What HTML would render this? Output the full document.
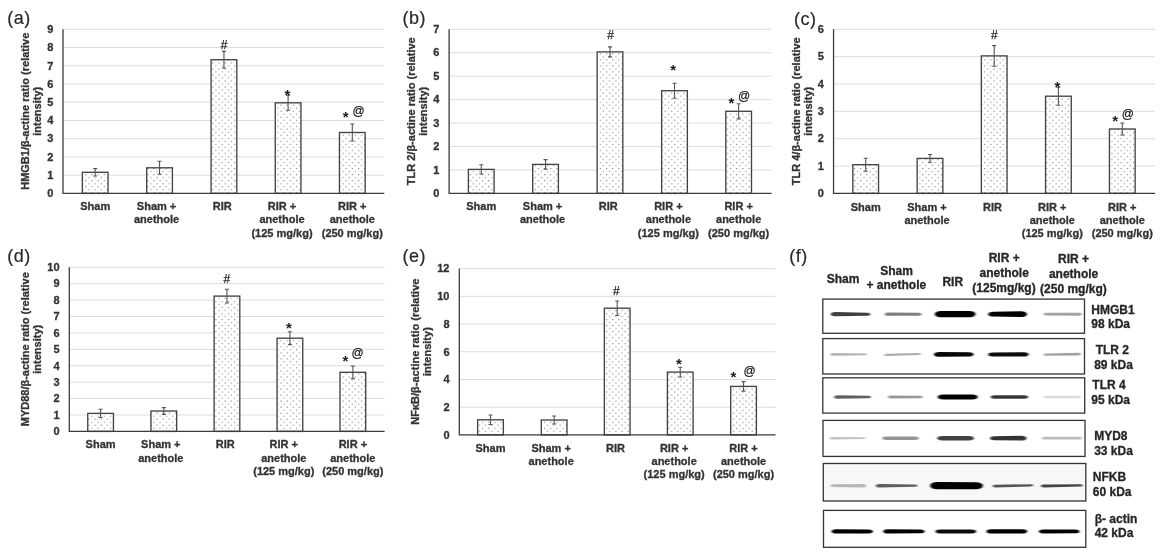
<!DOCTYPE html>
<html lang="en">
<head>
<meta charset="utf-8">
<title>Western blot figure</title>
<style>
html,body{margin:0;padding:0;background:#fff;}
body{width:1166px;height:559px;overflow:hidden;}
svg{display:block;opacity:0.999;font-family:'Liberation Sans', Arial, sans-serif;}
.b11{font-size:11px;font-weight:700;fill:#333;stroke:#333;stroke-width:.3px;}
.b12{font-size:12px;font-weight:700;fill:#262626;stroke:#262626;stroke-width:.3px;}
.r12{font-size:12px;fill:#222;stroke:#222;stroke-width:.25px;}
.star{font-size:15px;font-weight:700;fill:#1a1a1a;}
.pl{font-size:18px;letter-spacing:.5px;fill:#2a2a2a;stroke:#2a2a2a;stroke-width:.2px;}
</style>
</head>
<body>
<svg width="1166" height="559" viewBox="0 0 1166 559">
<defs>
<pattern id="dots" width="6.2" height="6.04" patternUnits="userSpaceOnUse" x="1" y="1.5">
<rect x="0.5" y="0.5" width="1.05" height="1.0" fill="#6e6e6e"/>
<rect x="3.6" y="3.52" width="1.05" height="1.0" fill="#6e6e6e"/>
</pattern>
<filter id="bl" x="-10%" y="-100%" width="120%" height="300%"><feGaussianBlur stdDeviation="1.0 0.75"/></filter>
</defs>
<rect width="1166" height="559" fill="#fff"/>
<g id="chart-a">
<line x1="63.0" y1="175.17" x2="384.3" y2="175.17" stroke="#dcdcdc" stroke-width="1"/>
<line x1="63.0" y1="156.93" x2="384.3" y2="156.93" stroke="#dcdcdc" stroke-width="1"/>
<line x1="63.0" y1="138.70" x2="384.3" y2="138.70" stroke="#dcdcdc" stroke-width="1"/>
<line x1="63.0" y1="120.47" x2="384.3" y2="120.47" stroke="#dcdcdc" stroke-width="1"/>
<line x1="63.0" y1="102.23" x2="384.3" y2="102.23" stroke="#dcdcdc" stroke-width="1"/>
<line x1="63.0" y1="84.00" x2="384.3" y2="84.00" stroke="#dcdcdc" stroke-width="1"/>
<line x1="63.0" y1="65.77" x2="384.3" y2="65.77" stroke="#dcdcdc" stroke-width="1"/>
<line x1="63.0" y1="47.53" x2="384.3" y2="47.53" stroke="#dcdcdc" stroke-width="1"/>
<line x1="63.0" y1="29.30" x2="384.3" y2="29.30" stroke="#dcdcdc" stroke-width="1"/>
<text x="53.3" y="197.15" text-anchor="end" class="b11">0</text>
<text x="53.3" y="178.92" text-anchor="end" class="b11">1</text>
<text x="53.3" y="160.68" text-anchor="end" class="b11">2</text>
<text x="53.3" y="142.45" text-anchor="end" class="b11">3</text>
<text x="53.3" y="124.22" text-anchor="end" class="b11">4</text>
<text x="53.3" y="105.98" text-anchor="end" class="b11">5</text>
<text x="53.3" y="87.75" text-anchor="end" class="b11">6</text>
<text x="53.3" y="69.52" text-anchor="end" class="b11">7</text>
<text x="53.3" y="51.28" text-anchor="end" class="b11">8</text>
<text x="53.3" y="33.05" text-anchor="end" class="b11">9</text>
<rect x="82.35" y="172.30" width="25.7" height="21.10" fill="#fff"/>
<rect x="82.35" y="172.30" width="25.7" height="21.10" fill="url(#dots)" stroke="#444" stroke-width="1.35"/>
<path d="M95.20 168.65V175.95M93.20 168.65h4M93.20 175.95h4" stroke="#555" stroke-width="1.1" fill="none"/>
<text x="95.20" y="210.30" text-anchor="middle" class="b11">Sham</text>
<rect x="146.70" y="167.80" width="25.7" height="25.60" fill="#fff"/>
<rect x="146.70" y="167.80" width="25.7" height="25.60" fill="url(#dots)" stroke="#444" stroke-width="1.35"/>
<path d="M159.55 161.30V174.30M157.55 161.30h4M157.55 174.30h4" stroke="#555" stroke-width="1.1" fill="none"/>
<text x="156.55" y="210.30" text-anchor="middle" class="b11">Sham +</text>
<text x="156.55" y="223.42" text-anchor="middle" class="b11">anethole</text>
<rect x="211.10" y="59.70" width="25.7" height="133.70" fill="#fff"/>
<rect x="211.10" y="59.70" width="25.7" height="133.70" fill="url(#dots)" stroke="#444" stroke-width="1.35"/>
<path d="M223.95 51.35V68.05M221.95 51.35h4M221.95 68.05h4" stroke="#555" stroke-width="1.1" fill="none"/>
<text x="222.25" y="210.30" text-anchor="middle" class="b11">RIR</text>
<rect x="275.25" y="102.80" width="25.7" height="90.60" fill="#fff"/>
<rect x="275.25" y="102.80" width="25.7" height="90.60" fill="url(#dots)" stroke="#444" stroke-width="1.35"/>
<path d="M288.10 95.30V110.30M286.10 95.30h4M286.10 110.30h4" stroke="#555" stroke-width="1.1" fill="none"/>
<text x="282.00" y="210.30" text-anchor="middle" class="b11">RIR +</text>
<text x="282.00" y="223.42" text-anchor="middle" class="b11">anethole</text>
<text x="282.00" y="236.54" text-anchor="middle" class="b11">(125 mg/kg)</text>
<rect x="339.45" y="132.50" width="25.7" height="60.90" fill="#fff"/>
<rect x="339.45" y="132.50" width="25.7" height="60.90" fill="url(#dots)" stroke="#444" stroke-width="1.35"/>
<path d="M352.30 123.95V141.05M350.30 123.95h4M350.30 141.05h4" stroke="#555" stroke-width="1.1" fill="none"/>
<text x="352.30" y="210.30" text-anchor="middle" class="b11">RIR +</text>
<text x="352.30" y="223.42" text-anchor="middle" class="b11">anethole</text>
<text x="352.30" y="236.54" text-anchor="middle" class="b11">(250 mg/kg)</text>
<path d="M63.0 29.3V193.4H384.3" stroke="#3c3c3c" stroke-width="1.3" fill="none"/>
<text transform="translate(29.1,111.25) rotate(-90)" text-anchor="middle" class="b11">HMGB1/β-actine ratio (relative</text>
<text transform="translate(41.3,111.25) rotate(-90)" text-anchor="middle" class="b11">intensity)</text>
<text x="7.3" y="23.7" class="pl">(a)</text>
<text x="224" y="48.7" text-anchor="middle" class="r12">#</text>
<text x="287.5" y="100.10" text-anchor="middle" class="star">*</text>
<text x="345.6" y="121.70" text-anchor="middle" class="star">*</text>
<text x="358.6" y="114.9" text-anchor="middle" class="r12">@</text>
</g>
<g id="chart-b">
<line x1="449.1" y1="169.96" x2="771.6" y2="169.96" stroke="#dcdcdc" stroke-width="1"/>
<line x1="449.1" y1="146.51" x2="771.6" y2="146.51" stroke="#dcdcdc" stroke-width="1"/>
<line x1="449.1" y1="123.07" x2="771.6" y2="123.07" stroke="#dcdcdc" stroke-width="1"/>
<line x1="449.1" y1="99.63" x2="771.6" y2="99.63" stroke="#dcdcdc" stroke-width="1"/>
<line x1="449.1" y1="76.19" x2="771.6" y2="76.19" stroke="#dcdcdc" stroke-width="1"/>
<line x1="449.1" y1="52.74" x2="771.6" y2="52.74" stroke="#dcdcdc" stroke-width="1"/>
<line x1="449.1" y1="29.30" x2="771.6" y2="29.30" stroke="#dcdcdc" stroke-width="1"/>
<text x="439.4" y="197.15" text-anchor="end" class="b11">0</text>
<text x="439.4" y="173.71" text-anchor="end" class="b11">1</text>
<text x="439.4" y="150.26" text-anchor="end" class="b11">2</text>
<text x="439.4" y="126.82" text-anchor="end" class="b11">3</text>
<text x="439.4" y="103.38" text-anchor="end" class="b11">4</text>
<text x="439.4" y="79.94" text-anchor="end" class="b11">5</text>
<text x="439.4" y="56.49" text-anchor="end" class="b11">6</text>
<text x="439.4" y="33.05" text-anchor="end" class="b11">7</text>
<rect x="468.40" y="169.40" width="25.7" height="24.00" fill="#fff"/>
<rect x="468.40" y="169.40" width="25.7" height="24.00" fill="url(#dots)" stroke="#444" stroke-width="1.35"/>
<path d="M481.25 164.80V174.00M479.25 164.80h4M479.25 174.00h4" stroke="#555" stroke-width="1.1" fill="none"/>
<text x="481.25" y="210.30" text-anchor="middle" class="b11">Sham</text>
<rect x="532.70" y="164.40" width="25.7" height="29.00" fill="#fff"/>
<rect x="532.70" y="164.40" width="25.7" height="29.00" fill="url(#dots)" stroke="#444" stroke-width="1.35"/>
<path d="M545.55 159.65V169.15M543.55 159.65h4M543.55 169.15h4" stroke="#555" stroke-width="1.1" fill="none"/>
<text x="542.55" y="210.30" text-anchor="middle" class="b11">Sham +</text>
<text x="542.55" y="223.42" text-anchor="middle" class="b11">anethole</text>
<rect x="597.15" y="51.90" width="25.7" height="141.50" fill="#fff"/>
<rect x="597.15" y="51.90" width="25.7" height="141.50" fill="url(#dots)" stroke="#444" stroke-width="1.35"/>
<path d="M610.00 46.90V56.90M608.00 46.90h4M608.00 56.90h4" stroke="#555" stroke-width="1.1" fill="none"/>
<text x="608.30" y="210.30" text-anchor="middle" class="b11">RIR</text>
<rect x="661.65" y="90.70" width="25.7" height="102.70" fill="#fff"/>
<rect x="661.65" y="90.70" width="25.7" height="102.70" fill="url(#dots)" stroke="#444" stroke-width="1.35"/>
<path d="M674.50 83.20V98.20M672.50 83.20h4M672.50 98.20h4" stroke="#555" stroke-width="1.1" fill="none"/>
<text x="668.40" y="210.30" text-anchor="middle" class="b11">RIR +</text>
<text x="668.40" y="223.42" text-anchor="middle" class="b11">anethole</text>
<text x="668.40" y="236.54" text-anchor="middle" class="b11">(125 mg/kg)</text>
<rect x="725.80" y="111.30" width="25.7" height="82.10" fill="#fff"/>
<rect x="725.80" y="111.30" width="25.7" height="82.10" fill="url(#dots)" stroke="#444" stroke-width="1.35"/>
<path d="M738.65 103.70V118.90M736.65 103.70h4M736.65 118.90h4" stroke="#555" stroke-width="1.1" fill="none"/>
<text x="738.65" y="210.30" text-anchor="middle" class="b11">RIR +</text>
<text x="738.65" y="223.42" text-anchor="middle" class="b11">anethole</text>
<text x="738.65" y="236.54" text-anchor="middle" class="b11">(250 mg/kg)</text>
<path d="M449.1 29.3V193.4H771.6" stroke="#3c3c3c" stroke-width="1.3" fill="none"/>
<text transform="translate(415.0,111.25) rotate(-90)" text-anchor="middle" class="b11">TLR 2/β-actine ratio (relative</text>
<text transform="translate(427.1,111.25) rotate(-90)" text-anchor="middle" class="b11">intensity)</text>
<text x="402.6" y="23.7" class="pl">(b)</text>
<text x="610.6" y="38.8" text-anchor="middle" class="r12">#</text>
<text x="673.2" y="74.50" text-anchor="middle" class="star">*</text>
<text x="731.4" y="107.60" text-anchor="middle" class="star">*</text>
<text x="744.2" y="99.8" text-anchor="middle" class="r12">@</text>
</g>
<g id="chart-c">
<line x1="833.55" y1="166.05" x2="1155.0" y2="166.05" stroke="#dcdcdc" stroke-width="1"/>
<line x1="833.55" y1="138.70" x2="1155.0" y2="138.70" stroke="#dcdcdc" stroke-width="1"/>
<line x1="833.55" y1="111.35" x2="1155.0" y2="111.35" stroke="#dcdcdc" stroke-width="1"/>
<line x1="833.55" y1="84.00" x2="1155.0" y2="84.00" stroke="#dcdcdc" stroke-width="1"/>
<line x1="833.55" y1="56.65" x2="1155.0" y2="56.65" stroke="#dcdcdc" stroke-width="1"/>
<line x1="833.55" y1="29.30" x2="1155.0" y2="29.30" stroke="#dcdcdc" stroke-width="1"/>
<text x="823.8" y="197.15" text-anchor="end" class="b11">0</text>
<text x="823.8" y="169.80" text-anchor="end" class="b11">1</text>
<text x="823.8" y="142.45" text-anchor="end" class="b11">2</text>
<text x="823.8" y="115.10" text-anchor="end" class="b11">3</text>
<text x="823.8" y="87.75" text-anchor="end" class="b11">4</text>
<text x="823.8" y="60.40" text-anchor="end" class="b11">5</text>
<text x="823.8" y="33.05" text-anchor="end" class="b11">6</text>
<rect x="852.85" y="164.70" width="25.7" height="28.70" fill="#fff"/>
<rect x="852.85" y="164.70" width="25.7" height="28.70" fill="url(#dots)" stroke="#444" stroke-width="1.35"/>
<path d="M865.70 158.20V171.20M863.70 158.20h4M863.70 171.20h4" stroke="#555" stroke-width="1.1" fill="none"/>
<text x="865.70" y="210.70" text-anchor="middle" class="b11">Sham</text>
<rect x="917.15" y="158.40" width="25.7" height="35.00" fill="#fff"/>
<rect x="917.15" y="158.40" width="25.7" height="35.00" fill="url(#dots)" stroke="#444" stroke-width="1.35"/>
<path d="M930.00 154.50V162.30M928.00 154.50h4M928.00 162.30h4" stroke="#555" stroke-width="1.1" fill="none"/>
<text x="927.00" y="210.70" text-anchor="middle" class="b11">Sham +</text>
<text x="927.00" y="223.82" text-anchor="middle" class="b11">anethole</text>
<rect x="981.35" y="55.90" width="25.7" height="137.50" fill="#fff"/>
<rect x="981.35" y="55.90" width="25.7" height="137.50" fill="url(#dots)" stroke="#444" stroke-width="1.35"/>
<path d="M994.20 45.60V66.20M992.20 45.60h4M992.20 66.20h4" stroke="#555" stroke-width="1.1" fill="none"/>
<text x="992.50" y="210.70" text-anchor="middle" class="b11">RIR</text>
<rect x="1045.55" y="96.20" width="25.7" height="97.20" fill="#fff"/>
<rect x="1045.55" y="96.20" width="25.7" height="97.20" fill="url(#dots)" stroke="#444" stroke-width="1.35"/>
<path d="M1058.40 87.20V105.20M1056.40 87.20h4M1056.40 105.20h4" stroke="#555" stroke-width="1.1" fill="none"/>
<text x="1052.30" y="210.70" text-anchor="middle" class="b11">RIR +</text>
<text x="1052.30" y="223.82" text-anchor="middle" class="b11">anethole</text>
<text x="1052.30" y="236.94" text-anchor="middle" class="b11">(125 mg/kg)</text>
<rect x="1109.45" y="129.00" width="25.7" height="64.40" fill="#fff"/>
<rect x="1109.45" y="129.00" width="25.7" height="64.40" fill="url(#dots)" stroke="#444" stroke-width="1.35"/>
<path d="M1122.30 123.00V135.00M1120.30 123.00h4M1120.30 135.00h4" stroke="#555" stroke-width="1.1" fill="none"/>
<text x="1122.30" y="210.70" text-anchor="middle" class="b11">RIR +</text>
<text x="1122.30" y="223.82" text-anchor="middle" class="b11">anethole</text>
<text x="1122.30" y="236.94" text-anchor="middle" class="b11">(250 mg/kg)</text>
<path d="M833.55 29.3V193.4H1155.0" stroke="#3c3c3c" stroke-width="1.3" fill="none"/>
<text transform="translate(799.7,111.25) rotate(-90)" text-anchor="middle" class="b11">TLR 4/β-actine ratio (relative</text>
<text transform="translate(811.8,111.25) rotate(-90)" text-anchor="middle" class="b11">intensity)</text>
<text x="794.0" y="24.7" class="pl">(c)</text>
<text x="994.3" y="38.8" text-anchor="middle" class="r12">#</text>
<text x="1057.3" y="91.60" text-anchor="middle" class="star">*</text>
<text x="1115.1" y="125.90" text-anchor="middle" class="star">*</text>
<text x="1127.9" y="118.3" text-anchor="middle" class="r12">@</text>
</g>
<g id="chart-d">
<line x1="69.3" y1="414.99" x2="384.6" y2="414.99" stroke="#dcdcdc" stroke-width="1"/>
<line x1="69.3" y1="398.58" x2="384.6" y2="398.58" stroke="#dcdcdc" stroke-width="1"/>
<line x1="69.3" y1="382.17" x2="384.6" y2="382.17" stroke="#dcdcdc" stroke-width="1"/>
<line x1="69.3" y1="365.76" x2="384.6" y2="365.76" stroke="#dcdcdc" stroke-width="1"/>
<line x1="69.3" y1="349.35" x2="384.6" y2="349.35" stroke="#dcdcdc" stroke-width="1"/>
<line x1="69.3" y1="332.94" x2="384.6" y2="332.94" stroke="#dcdcdc" stroke-width="1"/>
<line x1="69.3" y1="316.53" x2="384.6" y2="316.53" stroke="#dcdcdc" stroke-width="1"/>
<line x1="69.3" y1="300.12" x2="384.6" y2="300.12" stroke="#dcdcdc" stroke-width="1"/>
<line x1="69.3" y1="283.71" x2="384.6" y2="283.71" stroke="#dcdcdc" stroke-width="1"/>
<line x1="69.3" y1="267.30" x2="384.6" y2="267.30" stroke="#dcdcdc" stroke-width="1"/>
<text x="59.6" y="435.15" text-anchor="end" class="b11">0</text>
<text x="59.6" y="418.74" text-anchor="end" class="b11">1</text>
<text x="59.6" y="402.33" text-anchor="end" class="b11">2</text>
<text x="59.6" y="385.92" text-anchor="end" class="b11">3</text>
<text x="59.6" y="369.51" text-anchor="end" class="b11">4</text>
<text x="59.6" y="353.10" text-anchor="end" class="b11">5</text>
<text x="59.6" y="336.69" text-anchor="end" class="b11">6</text>
<text x="59.6" y="320.28" text-anchor="end" class="b11">7</text>
<text x="59.6" y="303.87" text-anchor="end" class="b11">8</text>
<text x="59.6" y="287.46" text-anchor="end" class="b11">9</text>
<text x="59.6" y="271.05" text-anchor="end" class="b11">10</text>
<rect x="87.75" y="413.40" width="25.7" height="18.00" fill="#fff"/>
<rect x="87.75" y="413.40" width="25.7" height="18.00" fill="url(#dots)" stroke="#444" stroke-width="1.35"/>
<path d="M100.60 409.30V417.50M98.60 409.30h4M98.60 417.50h4" stroke="#555" stroke-width="1.1" fill="none"/>
<text x="100.60" y="448.40" text-anchor="middle" class="b11">Sham</text>
<rect x="150.95" y="411.00" width="25.7" height="20.40" fill="#fff"/>
<rect x="150.95" y="411.00" width="25.7" height="20.40" fill="url(#dots)" stroke="#444" stroke-width="1.35"/>
<path d="M163.80 407.60V414.40M161.80 407.60h4M161.80 414.40h4" stroke="#555" stroke-width="1.1" fill="none"/>
<text x="160.80" y="448.40" text-anchor="middle" class="b11">Sham +</text>
<text x="160.80" y="461.52" text-anchor="middle" class="b11">anethole</text>
<rect x="214.10" y="296.10" width="25.7" height="135.30" fill="#fff"/>
<rect x="214.10" y="296.10" width="25.7" height="135.30" fill="url(#dots)" stroke="#444" stroke-width="1.35"/>
<path d="M226.95 289.20V303.00M224.95 289.20h4M224.95 303.00h4" stroke="#555" stroke-width="1.1" fill="none"/>
<text x="225.25" y="448.40" text-anchor="middle" class="b11">RIR</text>
<rect x="277.05" y="338.20" width="25.7" height="93.20" fill="#fff"/>
<rect x="277.05" y="338.20" width="25.7" height="93.20" fill="url(#dots)" stroke="#444" stroke-width="1.35"/>
<path d="M289.90 331.80V344.60M287.90 331.80h4M287.90 344.60h4" stroke="#555" stroke-width="1.1" fill="none"/>
<text x="283.80" y="448.40" text-anchor="middle" class="b11">RIR +</text>
<text x="283.80" y="461.52" text-anchor="middle" class="b11">anethole</text>
<text x="283.80" y="474.64" text-anchor="middle" class="b11">(125 mg/kg)</text>
<rect x="340.00" y="372.30" width="25.7" height="59.10" fill="#fff"/>
<rect x="340.00" y="372.30" width="25.7" height="59.10" fill="url(#dots)" stroke="#444" stroke-width="1.35"/>
<path d="M352.85 366.00V378.60M350.85 366.00h4M350.85 378.60h4" stroke="#555" stroke-width="1.1" fill="none"/>
<text x="352.85" y="448.40" text-anchor="middle" class="b11">RIR +</text>
<text x="352.85" y="461.52" text-anchor="middle" class="b11">anethole</text>
<text x="352.85" y="474.64" text-anchor="middle" class="b11">(250 mg/kg)</text>
<path d="M69.3 267.3V431.4H384.6" stroke="#3c3c3c" stroke-width="1.3" fill="none"/>
<text transform="translate(29.2,349.25) rotate(-90)" text-anchor="middle" class="b11">MYD88/β-actine ratio (relative</text>
<text transform="translate(41.4,349.25) rotate(-90)" text-anchor="middle" class="b11">intensity)</text>
<text x="7.3" y="261.7" class="pl">(d)</text>
<text x="226.8" y="282.6" text-anchor="middle" class="r12">#</text>
<text x="289" y="332.60" text-anchor="middle" class="star">*</text>
<text x="345.4" y="365.90" text-anchor="middle" class="star">*</text>
<text x="357.7" y="357.3" text-anchor="middle" class="r12">@</text>
</g>
<g id="chart-e">
<line x1="459.3" y1="407.18" x2="775.5" y2="407.18" stroke="#dcdcdc" stroke-width="1"/>
<line x1="459.3" y1="379.47" x2="775.5" y2="379.47" stroke="#dcdcdc" stroke-width="1"/>
<line x1="459.3" y1="351.75" x2="775.5" y2="351.75" stroke="#dcdcdc" stroke-width="1"/>
<line x1="459.3" y1="324.03" x2="775.5" y2="324.03" stroke="#dcdcdc" stroke-width="1"/>
<line x1="459.3" y1="296.32" x2="775.5" y2="296.32" stroke="#dcdcdc" stroke-width="1"/>
<line x1="459.3" y1="268.60" x2="775.5" y2="268.60" stroke="#dcdcdc" stroke-width="1"/>
<text x="449.5" y="438.65" text-anchor="end" class="b11">0</text>
<text x="449.5" y="410.93" text-anchor="end" class="b11">2</text>
<text x="449.5" y="383.22" text-anchor="end" class="b11">4</text>
<text x="449.5" y="355.50" text-anchor="end" class="b11">6</text>
<text x="449.5" y="327.78" text-anchor="end" class="b11">8</text>
<text x="449.5" y="300.07" text-anchor="end" class="b11">10</text>
<text x="449.5" y="272.35" text-anchor="end" class="b11">12</text>
<rect x="477.65" y="419.80" width="25.7" height="15.10" fill="#fff"/>
<rect x="477.65" y="419.80" width="25.7" height="15.10" fill="url(#dots)" stroke="#444" stroke-width="1.35"/>
<path d="M490.50 415.05V424.55M488.50 415.05h4M488.50 424.55h4" stroke="#555" stroke-width="1.1" fill="none"/>
<text x="490.50" y="451.60" text-anchor="middle" class="b11">Sham</text>
<rect x="541.30" y="420.00" width="25.7" height="14.90" fill="#fff"/>
<rect x="541.30" y="420.00" width="25.7" height="14.90" fill="url(#dots)" stroke="#444" stroke-width="1.35"/>
<path d="M554.15 416.00V424.00M552.15 416.00h4M552.15 424.00h4" stroke="#555" stroke-width="1.1" fill="none"/>
<text x="551.15" y="451.60" text-anchor="middle" class="b11">Sham +</text>
<text x="551.15" y="464.72" text-anchor="middle" class="b11">anethole</text>
<rect x="604.35" y="308.20" width="25.7" height="126.70" fill="#fff"/>
<rect x="604.35" y="308.20" width="25.7" height="126.70" fill="url(#dots)" stroke="#444" stroke-width="1.35"/>
<path d="M617.20 300.95V315.45M615.20 300.95h4M615.20 315.45h4" stroke="#555" stroke-width="1.1" fill="none"/>
<text x="615.50" y="451.60" text-anchor="middle" class="b11">RIR</text>
<rect x="667.40" y="372.10" width="25.7" height="62.80" fill="#fff"/>
<rect x="667.40" y="372.10" width="25.7" height="62.80" fill="url(#dots)" stroke="#444" stroke-width="1.35"/>
<path d="M680.25 367.20V377.00M678.25 367.20h4M678.25 377.00h4" stroke="#555" stroke-width="1.1" fill="none"/>
<text x="674.15" y="451.60" text-anchor="middle" class="b11">RIR +</text>
<text x="674.15" y="464.72" text-anchor="middle" class="b11">anethole</text>
<text x="674.15" y="477.84" text-anchor="middle" class="b11">(125 mg/kg)</text>
<rect x="730.70" y="386.40" width="25.7" height="48.50" fill="#fff"/>
<rect x="730.70" y="386.40" width="25.7" height="48.50" fill="url(#dots)" stroke="#444" stroke-width="1.35"/>
<path d="M743.55 381.65V391.15M741.55 381.65h4M741.55 391.15h4" stroke="#555" stroke-width="1.1" fill="none"/>
<text x="743.55" y="451.60" text-anchor="middle" class="b11">RIR +</text>
<text x="743.55" y="464.72" text-anchor="middle" class="b11">anethole</text>
<text x="743.55" y="477.84" text-anchor="middle" class="b11">(250 mg/kg)</text>
<path d="M459.3 268.6V434.9H775.5" stroke="#3c3c3c" stroke-width="1.3" fill="none"/>
<text transform="translate(419.2,351.65) rotate(-90)" text-anchor="middle" class="b11">NFκB/β-actine ratio (relative</text>
<text transform="translate(431.4,351.65) rotate(-90)" text-anchor="middle" class="b11">intensity)</text>
<text x="402.6" y="261.8" class="pl">(e)</text>
<text x="616.3" y="295.1" text-anchor="middle" class="r12">#</text>
<text x="679" y="369.30" text-anchor="middle" class="star">*</text>
<text x="733.4" y="382.40" text-anchor="middle" class="star">*</text>
<text x="749.6" y="375.1" text-anchor="middle" class="r12">@</text>
</g>
<g id="panel-f">
<text x="789.2" y="261.7" class="pl">(f)</text>
<text x="843" y="282.7" text-anchor="middle" class="b12">Sham</text>
<text x="896.5" y="274.8" text-anchor="middle" class="b12">Sham</text>
<text x="896.3" y="289.4" text-anchor="middle" class="b12">+ anethole</text>
<text x="952.8" y="285.5" text-anchor="middle" class="b12">RIR</text>
<text x="1004.2" y="261.9" text-anchor="middle" class="b12">RIR +</text>
<text x="1004.2" y="277.0" text-anchor="middle" class="b12">anethole</text>
<text x="1004" y="292.0" text-anchor="middle" class="b12">(125mg/kg)</text>
<text x="1073.6" y="263.0" text-anchor="middle" class="b12">RIR +</text>
<text x="1073.6" y="277.9" text-anchor="middle" class="b12">anethole</text>
<text x="1073.4" y="292.5" text-anchor="middle" class="b12">(250 mg/kg)</text>
<rect x="822.8" y="299.1" width="261.7" height="34.2" fill="#fff" stroke="#333" stroke-width="1.3"/>
<path d="M830.7 314.20C830.7 312.93 832.6 312.07 835.4 312.07L867.1 312.68C869.2 312.68 870.5 313.28 870.5 314.20C870.5 315.12 869.2 315.72 867.1 315.72L835.4 316.32C832.6 316.32 830.7 315.47 830.7 314.20Z" fill="#000" opacity="0.75" filter="url(#bl)"/>
<path d="M884.7 314.20C884.7 313.24 886.1 312.60 888.2 312.60L918.3 312.68C920.4 312.68 921.7 313.28 921.7 314.20C921.7 315.12 920.4 315.72 918.3 315.72L888.2 315.80C886.1 315.80 884.7 315.16 884.7 314.20Z" fill="#000" opacity="0.5" filter="url(#bl)"/>
<path d="M934.9 314.20C934.9 312.34 937.6 311.10 941.7 311.10L968.6 311.10C972.7 311.10 975.4 312.34 975.4 314.20C975.4 316.06 972.7 317.30 968.6 317.30L941.7 317.30C937.6 317.30 934.9 316.06 934.9 314.20Z" fill="#000" opacity="1" filter="url(#bl)"/>
<path d="M988.2 314.20C988.2 312.79 990.3 311.85 993.4 311.85L1020.6 311.32C1024.4 311.32 1026.9 312.47 1026.9 314.20C1026.9 315.93 1024.4 317.07 1020.6 317.07L993.4 316.55C990.3 316.55 988.2 315.61 988.2 314.20Z" fill="#000" opacity="1" filter="url(#bl)"/>
<path d="M1043.6 314.20C1043.6 313.38 1044.8 312.82 1046.6 312.82L1078.8 312.75C1080.7 312.75 1082.0 313.33 1082.0 314.20C1082.0 315.07 1080.7 315.65 1078.8 315.65L1046.6 315.57C1044.8 315.57 1043.6 315.02 1043.6 314.20Z" fill="#000" opacity="0.36" filter="url(#bl)"/>
<text x="1091.3" y="313.8" text-anchor="start" class="b12">HMGB1</text>
<text x="1091.3" y="328.4" text-anchor="start" class="b12">98 kDa</text>
<rect x="822.8" y="338.6" width="261.7" height="35.4" fill="#fff" stroke="#333" stroke-width="1.3"/>
<path d="M830.3 354.40C830.3 353.57 831.5 353.02 833.3 353.02L864.8 353.55C866.3 353.55 867.3 353.89 867.3 354.40C867.3 354.91 866.3 355.25 864.8 355.25L833.3 355.77C831.5 355.77 830.3 355.22 830.3 354.40Z" fill="#000" opacity="0.3" filter="url(#bl)"/>
<path d="M884.2 354.90C884.2 354.21 885.2 353.75 886.7 353.75L918.3 352.90C919.8 352.90 920.8 353.30 920.8 353.90C920.8 354.50 919.8 354.90 918.3 354.90L886.7 356.05C885.2 356.05 884.2 355.59 884.2 354.90Z" fill="#000" opacity="0.32" filter="url(#bl)"/>
<path d="M933.9 354.40C933.9 352.94 936.0 351.97 939.2 351.97L968.9 352.27C971.7 352.27 973.6 353.12 973.6 354.40C973.6 355.67 971.7 356.52 968.9 356.52L939.2 356.82C936.0 356.82 933.9 355.85 933.9 354.40Z" fill="#000" opacity="0.97" filter="url(#bl)"/>
<path d="M988.2 354.40C988.2 353.21 989.9 352.42 992.5 352.42L1024.1 352.35C1026.8 352.35 1028.6 353.17 1028.6 354.40C1028.6 355.63 1026.8 356.45 1024.1 356.45L992.5 356.38C989.9 356.38 988.2 355.58 988.2 354.40Z" fill="#000" opacity="0.95" filter="url(#bl)"/>
<path d="M1043.6 354.70C1043.6 354.01 1044.6 353.55 1046.1 353.55L1078.1 352.80C1079.9 352.80 1081.0 353.32 1081.0 354.10C1081.0 354.88 1079.9 355.40 1078.1 355.40L1046.1 355.85C1044.6 355.85 1043.6 355.39 1043.6 354.70Z" fill="#000" opacity="0.36" filter="url(#bl)"/>
<text x="1095.7" y="353.6" text-anchor="start" class="b12">TLR 2</text>
<text x="1094.2" y="368.7" text-anchor="start" class="b12">89 kDa</text>
<rect x="822.8" y="377.8" width="261.9" height="35.3" fill="#fff" stroke="#333" stroke-width="1.3"/>
<path d="M834.0 397.00C834.0 395.90 835.6 395.18 838.0 395.18L868.3 395.77C869.9 395.77 871.0 396.26 871.0 397.00C871.0 397.74 869.9 398.23 868.3 398.23L838.0 398.82C835.6 398.82 834.0 398.10 834.0 397.00Z" fill="#000" opacity="0.62" filter="url(#bl)"/>
<path d="M887.9 397.00C887.9 396.18 889.1 395.62 890.9 395.62L920.0 395.77C921.6 395.77 922.7 396.26 922.7 397.00C922.7 397.74 921.6 398.23 920.0 398.23L890.9 398.38C889.1 398.38 887.9 397.82 887.9 397.00Z" fill="#000" opacity="0.4" filter="url(#bl)"/>
<path d="M937.7 397.00C937.7 395.55 939.8 394.57 943.0 394.57L972.4 394.57C975.6 394.57 977.7 395.55 977.7 397.00C977.7 398.45 975.6 399.43 972.4 399.43L943.0 399.43C939.8 399.43 937.7 398.45 937.7 397.00Z" fill="#000" opacity="1" filter="url(#bl)"/>
<path d="M990.6 397.00C990.6 395.90 992.2 395.18 994.6 395.18L1024.4 395.25C1026.7 395.25 1028.2 395.95 1028.2 397.00C1028.2 398.05 1026.7 398.75 1024.4 398.75L994.6 398.82C992.2 398.82 990.6 398.10 990.6 397.00Z" fill="#000" opacity="0.78" filter="url(#bl)"/>
<path d="M1043.6 397.00C1043.6 396.26 1044.7 395.77 1046.3 395.77L1078.3 395.77C1079.9 395.77 1081.0 396.26 1081.0 397.00C1081.0 397.74 1079.9 398.23 1078.3 398.23L1046.3 398.23C1044.7 398.23 1043.6 397.74 1043.6 397.00Z" fill="#000" opacity="0.14" filter="url(#bl)"/>
<text x="1092.3" y="389.3" text-anchor="start" class="b12">TLR 4</text>
<text x="1091.3" y="404.1" text-anchor="start" class="b12">95 kDa</text>
<rect x="823" y="420.4" width="262" height="36" fill="#fff" stroke="#333" stroke-width="1.3"/>
<path d="M829.7 438.20C829.7 437.42 830.8 436.90 832.6 436.90L862.9 437.35C864.4 437.35 865.4 437.69 865.4 438.20C865.4 438.71 864.4 439.05 862.9 439.05L832.6 439.50C830.8 439.50 829.7 438.98 829.7 438.20Z" fill="#000" opacity="0.24" filter="url(#bl)"/>
<path d="M882.3 438.20C882.3 437.19 883.8 436.52 886.0 436.52L915.0 436.45C917.4 436.45 918.9 437.15 918.9 438.20C918.9 439.25 917.4 439.95 915.0 439.95L886.0 439.88C883.8 439.88 882.3 439.20 882.3 438.20Z" fill="#000" opacity="0.42" filter="url(#bl)"/>
<path d="M937.3 438.20C937.3 436.88 939.2 436.00 942.1 436.00L969.1 436.00C972.0 436.00 973.9 436.88 973.9 438.20C973.9 439.52 972.0 440.40 969.1 440.40L942.1 440.40C939.2 440.40 937.3 439.52 937.3 438.20Z" fill="#000" opacity="0.74" filter="url(#bl)"/>
<path d="M990.0 438.20C990.0 437.01 991.7 436.22 994.3 436.22L1021.2 435.77C1024.4 435.77 1026.5 436.75 1026.5 438.20C1026.5 439.65 1024.4 440.62 1021.2 440.62L994.3 440.18C991.7 440.18 990.0 439.38 990.0 438.20Z" fill="#000" opacity="0.8" filter="url(#bl)"/>
<path d="M1041.7 438.20C1041.7 437.38 1042.9 436.82 1044.7 436.82L1079.0 436.82C1080.8 436.82 1082.0 437.38 1082.0 438.20C1082.0 439.02 1080.8 439.57 1079.0 439.57L1044.7 439.57C1042.9 439.57 1041.7 439.02 1041.7 438.20Z" fill="#000" opacity="0.26" filter="url(#bl)"/>
<text x="1094.2" y="440" text-anchor="start" class="b12">MYD8</text>
<text x="1094.2" y="454.7" text-anchor="start" class="b12">33 kDa</text>
<rect x="823.3" y="463.5" width="262.5" height="37.5" fill="#f7f7f7" stroke="#333" stroke-width="1.3"/>
<path d="M830.7 485.70C830.7 484.88 831.9 484.32 833.7 484.32L862.3 483.88C864.7 483.88 866.3 484.60 866.3 485.70C866.3 486.80 864.7 487.52 862.3 487.52L833.7 487.07C831.9 487.07 830.7 486.52 830.7 485.70Z" fill="#000" opacity="0.26" filter="url(#bl)"/>
<path d="M875.7 485.70C875.7 484.60 877.3 483.88 879.7 483.88L914.9 484.62C916.4 484.62 917.4 485.06 917.4 485.70C917.4 486.34 916.4 486.77 914.9 486.77L879.7 487.52C877.3 487.52 875.7 486.80 875.7 485.70Z" fill="#000" opacity="0.62" filter="url(#bl)"/>
<path d="M930.2 485.70C930.2 483.52 933.4 482.07 938.2 482.07L975.3 482.22C979.8 482.22 982.9 483.62 982.9 485.70C982.9 487.78 979.8 489.18 975.3 489.18L938.2 489.32C933.4 489.32 930.2 487.88 930.2 485.70Z" fill="#000" opacity="1" filter="url(#bl)"/>
<path d="M992.5 486.10C992.5 485.27 993.7 484.72 995.5 484.72L1030.8 484.15C1032.3 484.15 1033.3 484.61 1033.3 485.30C1033.3 485.99 1032.3 486.45 1030.8 486.45L995.5 487.47C993.7 487.47 992.5 486.92 992.5 486.10Z" fill="#000" opacity="0.66" filter="url(#bl)"/>
<path d="M1040.8 486.00C1040.8 485.13 1042.1 484.55 1044.0 484.55L1079.9 484.17C1081.5 484.17 1082.6 484.66 1082.6 485.40C1082.6 486.13 1081.5 486.62 1079.9 486.62L1044.0 487.45C1042.1 487.45 1040.8 486.87 1040.8 486.00Z" fill="#000" opacity="0.72" filter="url(#bl)"/>
<text x="1092.8" y="481.3" text-anchor="start" class="b12">NFKB</text>
<text x="1092.8" y="496.3" text-anchor="start" class="b12">60 kDa</text>
<rect x="823.5" y="510.4" width="262.3" height="36.9" fill="#fff" stroke="#333" stroke-width="1.3"/>
<path d="M831.6 531.40C831.6 530.17 833.4 529.35 836.1 529.35L868.6 529.42C871.2 529.42 872.9 530.22 872.9 531.40C872.9 532.58 871.2 533.38 868.6 533.38L836.1 533.45C833.4 533.45 831.6 532.63 831.6 531.40Z" fill="#000" opacity="1" filter="url(#bl)"/>
<path d="M883.2 531.40C883.2 530.17 885.0 529.35 887.7 529.35L920.3 529.50C922.8 529.50 924.5 530.26 924.5 531.40C924.5 532.54 922.8 533.30 920.3 533.30L887.7 533.45C885.0 533.45 883.2 532.63 883.2 531.40Z" fill="#000" opacity="1" filter="url(#bl)"/>
<path d="M935.4 531.40C935.4 530.22 937.1 529.42 939.7 529.42L971.9 529.42C974.5 529.42 976.2 530.22 976.2 531.40C976.2 532.58 974.5 533.38 971.9 533.38L939.7 533.38C937.1 533.38 935.4 532.58 935.4 531.40Z" fill="#000" opacity="0.95" filter="url(#bl)"/>
<path d="M986.5 531.40C986.5 530.08 988.4 529.20 991.3 529.20L1022.6 529.31C1025.4 529.31 1027.2 530.15 1027.2 531.40C1027.2 532.65 1025.4 533.49 1022.6 533.49L991.3 533.60C988.4 533.60 986.5 532.72 986.5 531.40Z" fill="#000" opacity="1" filter="url(#bl)"/>
<path d="M1038.9 531.40C1038.9 530.22 1040.6 529.42 1043.2 529.42L1075.2 529.46C1077.8 529.46 1079.5 530.24 1079.5 531.40C1079.5 532.56 1077.8 533.34 1075.2 533.34L1043.2 533.38C1040.6 533.38 1038.9 532.58 1038.9 531.40Z" fill="#000" opacity="1" filter="url(#bl)"/>
<text x="1094.7" y="522.7" text-anchor="start" class="b12">β- actin</text>
<text x="1094.7" y="537.2" text-anchor="start" class="b12">42 kDa</text>
</g>
</svg>
</body>
</html>
